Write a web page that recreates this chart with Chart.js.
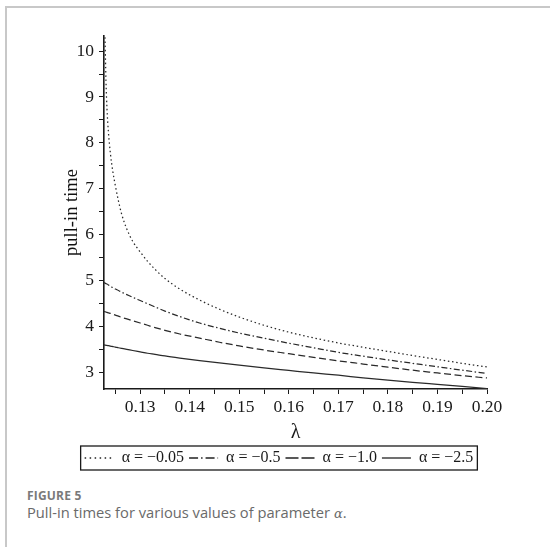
<!DOCTYPE html>
<html>
<head>
<meta charset="utf-8">
<script src="https://cdn.jsdelivr.net/npm/chart.js@4.4.1/dist/chart.umd.min.js"></script>
<style>
  html, body { margin: 0; padding: 0; background: #fff; }
  body { width: 550px; height: 547px; position: relative; overflow: hidden; }
  #frame { position: absolute; left: 5px; top: 6px; width: 600px; height: 600px;
           border-left: 2px solid #c8c8c8; border-top: 2px solid #c8c8c8; }
  #plot { position: absolute; left: 0; top: 0; }
  #caption { position: absolute; left: 27px; top: 489px; font-family: "Open Sans", sans-serif; color: #6a6a6a; }
  #caption .fig { font-size: 12px; line-height: 14px; font-weight: 700; letter-spacing: 0.2px; color: #7a7a7a; }
  #caption .txt { font-size: 14.7px; line-height: 18px; }
  #caption i { font-family: "DejaVu Serif", serif; font-size: 13px; }
</style>
</head>
<body>
<div id="frame"></div>
<canvas id="plot" width="550" height="480"></canvas>
<div id="caption">
  <div class="fig">FIGURE 5</div>
  <div class="txt">Pull-in times for various values of parameter <i>α</i>.</div>
</div>
<script>
// lambda values the curves were read at
const lambda = [0.1227, 0.1229, 0.1231, 0.1233, 0.1236, 0.1240, 0.1245, 0.1250, 0.1256, 0.1263,
                0.1273, 0.1285, 0.1300, 0.1315, 0.1330, 0.1350, 0.1380, 0.1420, 0.1460, 0.1500,
                0.1550, 0.1600, 0.1650, 0.1700, 0.1750, 0.1800, 0.1850, 0.1900, 0.1950, 0.2000];

// pull-in time for each alpha (null = above the top of the axis)
const tAlpha005 = [null, 10.30, 9.35, 8.75, 8.22, 7.76, 7.36, 7.06, 6.74, 6.43,
                   6.12, 5.85, 5.62, 5.415, 5.24, 5.04, 4.81, 4.57, 4.37, 4.20,
                   4.02, 3.87, 3.745, 3.635, 3.54, 3.45, 3.36, 3.275, 3.19, 3.11];
const tAlpha05 = [4.95, 4.94, 4.93, 4.92, 4.90, 4.87, 4.84, 4.81, 4.78, 4.74,
                  4.69, 4.63, 4.56, 4.49, 4.42, 4.33, 4.21, 4.07, 3.955, 3.85,
                  3.74, 3.63, 3.53, 3.43, 3.345, 3.265, 3.19, 3.115, 3.04, 2.97];
const tAlpha10 = [4.32, 4.315, 4.31, 4.30, 4.29, 4.28, 4.26, 4.24, 4.22, 4.19,
                  4.16, 4.12, 4.07, 4.02, 3.97, 3.91, 3.83, 3.74, 3.65, 3.57,
                  3.48, 3.40, 3.32, 3.245, 3.175, 3.105, 3.04, 2.98, 2.92, 2.87];
const tAlpha25 = [3.59, 3.587, 3.584, 3.58, 3.575, 3.565, 3.555, 3.545, 3.53, 3.515,
                  3.495, 3.47, 3.44, 3.41, 3.385, 3.35, 3.305, 3.25, 3.20, 3.15,
                  3.09, 3.035, 2.98, 2.93, 2.875, 2.825, 2.775, 2.73, 2.685, 2.64];

const seriesLabels = ['α = −0.05', 'α = −0.5', 'α = −1.0', 'α = −2.5'];

// ticks (minor ones have empty labels)
const xTickValues = [0.125, 0.13, 0.135, 0.14, 0.145, 0.15, 0.155, 0.16, 0.165, 0.17, 0.175, 0.18, 0.185, 0.19, 0.195, 0.20];
const xTickLabels = ['', '0.13', '', '0.14', '', '0.15', '', '0.16', '', '0.17', '', '0.18', '', '0.19', '', '0.20'];
const yTickValues = [3, 3.5, 4, 4.5, 5, 5.5, 6, 6.5, 7, 7.5, 8, 8.5, 9, 9.5, 10];
const yTickLabels = ['3', '', '4', '', '5', '', '6', '', '7', '', '8', '', '9', '', '10'];

const lineDashes = [[1.5, 2.7], [6, 2.5, 1.5, 2.5], [7, 3.5], []];
const legendDashes = [[1.5, 3.5], [9, 3, 1.5, 3], [13, 3], []];

const serif = "'Liberation Serif', 'Times New Roman', serif";
const ink = '#1a1a1a';

function toPoints(values) {
    return lambda.map((x, i) => ({x: x, y: values[i]}));
}

const allSeries = [tAlpha005, tAlpha05, tAlpha10, tAlpha25];
const datasets = allSeries.map((vals, i) => ({
    label: seriesLabels[i],
    data: toPoints(vals),
    borderColor: '#2a2a2a',
    borderWidth: 1.25,
    borderDash: lineDashes[i],
    pointRadius: 0,
    fill: false,
    cubicInterpolationMode: 'monotone',
    yAxisID: 'y'
}));

const legendFrame = {
    id: 'legendFrame',
    afterDraw(chart) {
        const boxes = chart.legend.legendHitBoxes;
        if (!boxes || !boxes.length) return;
        const l = Math.min(...boxes.map(b => b.left)) - 4;
        const r = Math.max(...boxes.map(b => b.left + b.width)) + 4;
        const t = Math.min(...boxes.map(b => b.top)) - 4;
        const btm = Math.max(...boxes.map(b => b.top + b.height)) + 4;
        const ctx = chart.ctx;
        ctx.save();
        ctx.strokeStyle = ink;
        ctx.lineWidth = 1.3;
        ctx.strokeRect(l, t, r - l, btm - t);
        ctx.restore();
    }
};

const config = {
    type: 'line',
    data: {datasets: datasets},
    options: {
        responsive: false,
        animation: false,
        layout: {padding: {left: 8, right: 0, top: 36, bottom: 4}},
        plugins: {
            tooltip: {enabled: false},
            legend: {
                position: 'bottom',
                labels: {
                    usePointStyle: true,
                    pointStyleWidth: 29,
                    padding: 5,
                    color: ink,
                    font: {family: serif, size: 16},
                    generateLabels: function (chart) {
                        return chart.data.datasets.map((ds, i) => ({
                            text: ds.label,
                            pointStyle: 'line',
                            strokeStyle: '#222',
                            fillStyle: '#222',
                            lineWidth: 1.3,
                            lineDash: legendDashes[i],
                            fontColor: ink,
                            datasetIndex: i
                        }));
                    }
                }
            }
        },
        scales: {
            x: {
                type: 'linear',
                min: 0.1227,
                max: 0.20,
                afterBuildTicks: scale => { scale.ticks = xTickValues.map(v => ({value: v})); },
                afterFit: scale => { scale.height = 56; },
                grid: {drawOnChartArea: false, drawTicks: true, tickLength: 5, color: ink, lineWidth: 1},
                border: {color: ink, width: 1.6},
                ticks: {
                    color: ink,
                    padding: 3,
                    maxRotation: 0,
                    autoSkip: false,
                    font: {family: serif, size: 17.5},
                    callback: (v, i) => xTickLabels[i]
                },
                title: {
                    display: true,
                    text: 'λ',
                    color: ink,
                    font: {family: serif, size: 20},
                    padding: {top: 0, bottom: 0}
                }
            },
            y: {
                type: 'linear',
                position: 'left',
                min: 2.63,
                max: 10.33,
                afterBuildTicks: scale => { scale.ticks = yTickValues.map(v => ({value: v})); },
                afterFit: scale => { scale.width = 96; },
                grid: {drawOnChartArea: false, drawTicks: true, tickLength: 5, color: ink, lineWidth: 1},
                border: {color: ink, width: 1.6},
                ticks: {
                    color: ink,
                    padding: 5,
                    autoSkip: false,
                    font: {family: serif, size: 17.5},
                    callback: (v, i) => yTickLabels[i]
                },
                title: {
                    display: true,
                    text: 'pull-in time',
                    color: '#111',
                    font: {family: serif, size: 18.5},
                    padding: {top: 53, bottom: 0}
                }
            },
            // empty right-hand axis, only reserves the margin on the right
            spacer: {
                type: 'linear',
                position: 'right',
                display: true,
                afterFit: scale => { scale.width = 63; },
                grid: {display: false, drawTicks: false},
                border: {display: false},
                ticks: {display: false}
            }
        }
    },
    plugins: [legendFrame]
};

const myChart = new Chart(document.getElementById('plot').getContext('2d'), config);
</script>
</body>
</html>
